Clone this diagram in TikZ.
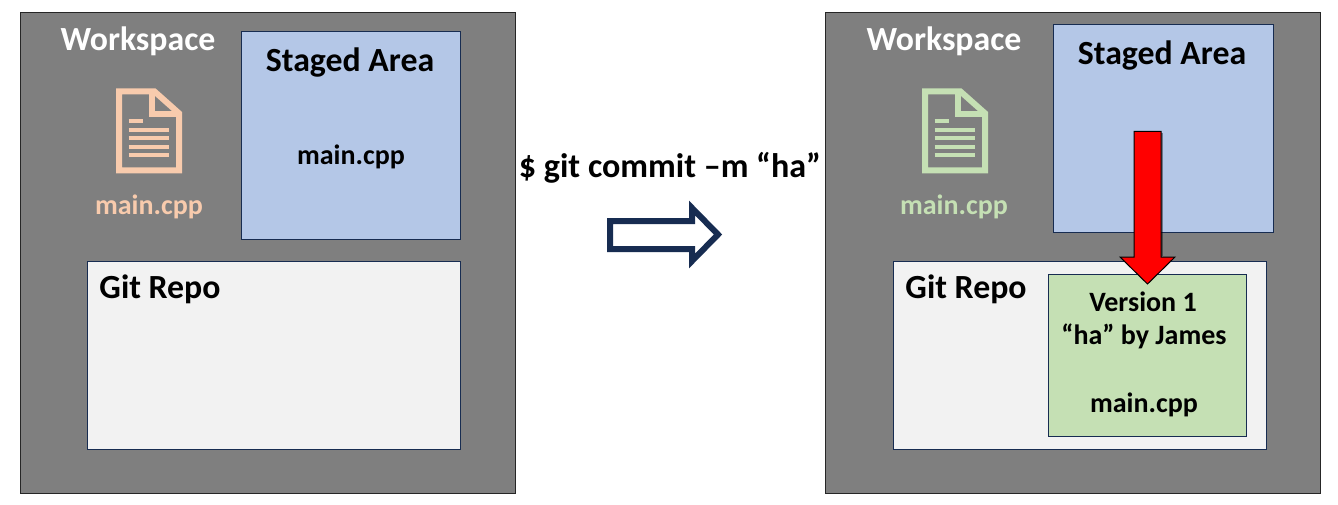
\documentclass[tikz,border=0pt]{standalone}
\usepackage{fontspec}
\setmainfont{Carlito}
\definecolor{wsgray}{HTML}{7F7F7F}
\definecolor{stblue}{HTML}{B4C7E7}
\definecolor{repogray}{HTML}{F2F2F2}
\definecolor{vgreen}{HTML}{C5E0B4}
\definecolor{peach}{HTML}{F8CBAD}
\definecolor{navy}{HTML}{172C51}
\newcommand{\lbl}[1]{\fontsize{#1}{#1}\selectfont\bfseries}
\tikzset{
  x=1pt,y=-1pt,
  panel/.style={draw=#1,line width=1pt,inner sep=0pt},
  zone/.style={panel=black!70!wsgray,fill=wsgray},
  stage/.style={panel=navy,fill=stblue},
  repo/.style={panel=navy,fill=repogray},
  ver/.style={panel=navy,fill=vgreen},
  big/.style={font=\lbl{33.8},inner sep=0pt,anchor=center},
  med/.style={font=\lbl{28},inner sep=0pt,anchor=center},
  doc/.pic={
    \draw[line width=6pt,#1,line join=miter] (3,3) -- (38.5,3) -- (63,24.8) -- (63,82) -- (3,82) -- cycle;
    \draw[line width=6pt,#1] (36,3) -- (36,25.5) -- (63,25.5);
    \foreach \yy in {41.5,49.8,58.2,66.8}{\draw[line width=4pt,#1] (12.7,\yy) -- (53.3,\yy);}
    \draw[line width=4pt,#1] (12.7,32.8) -- (26.7,32.8);
  }
}
\begin{document}
\begin{tikzpicture}
\useasboundingbox (0,0) rectangle (1338,505);
\fill[white] (0,0) rectangle (1338,505);
% left
\draw[zone] (20.5,12.5) rectangle (515.5,493.5);
\draw[stage] (241.5,31.5) rectangle (460.5,239.5);
\draw[repo] (87.5,261.5) rectangle (460.5,449.5);
\node[big,text=white] (w1) at (138,41) {Workspace};
\node[big] (s1) at (350,63) {Staged Area};
\node[med] (m1) at (351,156.5) {main.cpp};
\node[big] (g1) at (160,289) {Git Repo};
\pic at (116,88.5) {doc=peach};
\node[med,text=peach] (f1) at (149,206.5) {main.cpp};
% middle
\node[big,font=\lbl{34.1}] (cmd) at (670,168) {\$ git commit –m “ha”};
\draw[navy,line width=6pt,miter limit=10] (610,221) -- (692,221) -- (692,208) -- (718,234.5) -- (692,261) -- (692,249) -- (610,249) -- cycle;
% right
\draw[zone] (825.5,12.5) rectangle (1320.5,493.5);
\draw[stage] (1053.5,24.5) rectangle (1273.5,232.5);
\draw[repo] (893.5,261.5) rectangle (1266.5,449.5);
\draw[ver] (1048.5,274.5) rectangle (1246.5,436.5);
\node[big,text=white] (w2) at (944,41) {Workspace};
\node[big] (s2) at (1162,56) {Staged Area};
\node[big] (g2) at (966,289) {Git Repo};
\pic at (922,88.5) {doc=vgreen};
\node[med,text=vgreen] (f2) at (954,206.5) {main.cpp};
\node[med] (v1) at (1143,302) {Version 1};
\node[med] (v2) at (1144,336) {“ha” by James};
\node[med] (v3) at (1144,404.5) {main.cpp};
\draw[black,line width=1.5pt,opacity=.4] (1162.2,133) -- (1162.2,256);
\draw[black,line width=1pt,fill=red,line join=miter] (1134,131.5) -- (1161,131.5) -- (1161,257) -- (1175,257) -- (1147.5,284) -- (1120,257) -- (1134,257) -- cycle;
\end{tikzpicture}
\end{document}
